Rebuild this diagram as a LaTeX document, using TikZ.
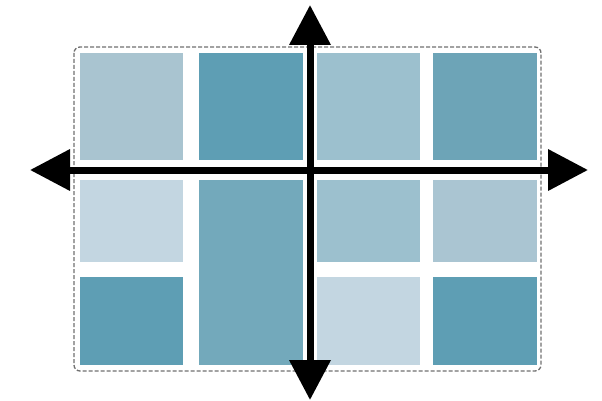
\documentclass[tikz,border=0pt]{standalone}
\usetikzlibrary{arrows.meta}
\definecolor{cA}{HTML}{A9C4D0}
\definecolor{cB}{HTML}{5E9EB4}
\definecolor{cC}{HTML}{9CC0CE}
\definecolor{cD}{HTML}{6DA4B7}
\definecolor{cE}{HTML}{C3D6E1}
\definecolor{cF}{HTML}{73A9BB}
\definecolor{cG}{HTML}{AAC5D2}
\definecolor{frame}{HTML}{707070}
\tikzset{
  tile/.style={draw=none, rectangle, inner sep=0pt, anchor=north west},
  axis/.style={line width=7pt, black, {Triangle[length=40pt,width=40pt]}-{Triangle[length=40pt,width=40pt]}},
  outline/.style={draw=frame, dash pattern=on 4pt off 2pt, line width=1.3pt, rounded corners=6pt}
}
\begin{document}
\begin{tikzpicture}[x=1pt,y=-1pt]
\useasboundingbox (0,0) rectangle (602,401);
\draw[outline] (74,47) rectangle (541,371);
% row 1
\node[tile, fill=cA, minimum width=103pt, minimum height=107pt] (t11) at (80,53) {};
\node[tile, fill=cB, minimum width=104pt, minimum height=107pt] (t12) at (199,53) {};
\node[tile, fill=cC, minimum width=103pt, minimum height=107pt] (t13) at (317,53) {};
\node[tile, fill=cD, minimum width=104pt, minimum height=107pt] (t14) at (433,53) {};
% row 2
\node[tile, fill=cE, minimum width=103pt, minimum height=82pt] (t21) at (80,180) {};
\node[tile, fill=cF, minimum width=104pt, minimum height=185pt] (t22) at (199,180) {};
\node[tile, fill=cC, minimum width=103pt, minimum height=82pt] (t23) at (317,180) {};
\node[tile, fill=cG, minimum width=104pt, minimum height=82pt] (t24) at (433,180) {};
% row 3
\node[tile, fill=cB, minimum width=103pt, minimum height=88pt] (t31) at (80,277) {};
\node[tile, fill=cE, minimum width=103pt, minimum height=88pt] (t33) at (317,277) {};
\node[tile, fill=cB, minimum width=104pt, minimum height=88pt] (t34) at (433,277) {};
% axes
\coordinate (xl) at (30,170);
\coordinate (xr) at (588,170);
\coordinate (yt) at (310,5);
\coordinate (yb) at (310,400);
\draw[axis] (xl) -- (xr);
\draw[axis] (yb) -- (yt);
\end{tikzpicture}
\end{document}
